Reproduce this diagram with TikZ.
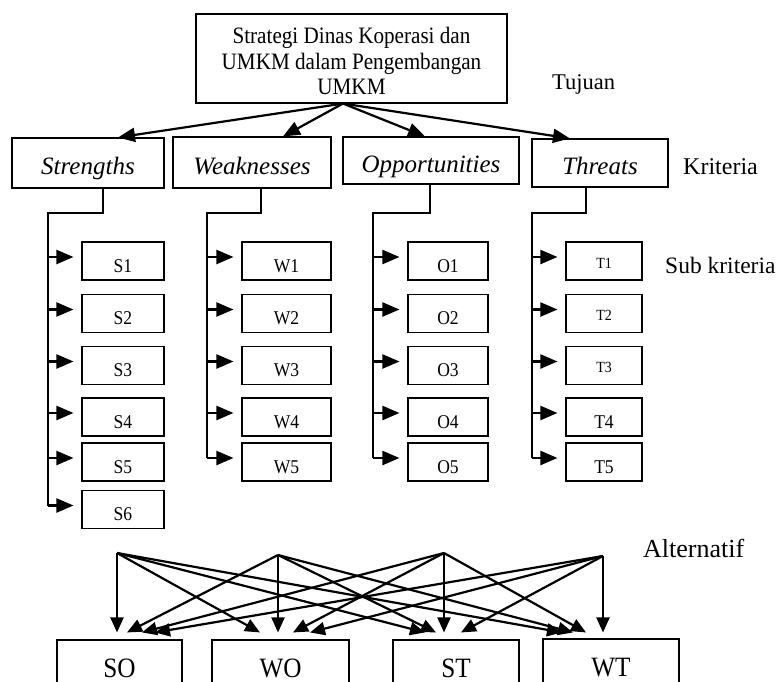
\documentclass[tikz,border=0pt]{standalone}
\usepackage{fontspec}
\setmainfont{Liberation Serif}
\newfontfamily\narrowserif[FakeStretch=0.9]{Liberation Serif}
\usetikzlibrary{arrows.meta,calc}
\begin{document}
\begin{tikzpicture}[x=1pt,y=-1pt,
  frame/.style={draw, line width=1.1pt, inner sep=0pt},
  goalbox/.style={frame, minimum width=311pt, minimum height=89pt},
  goaltext/.style={align=center, inner sep=0pt,
    font=\narrowserif\fontsize{23.5}{25.5}\selectfont},
  critbox/.style={frame, text height=24pt, text depth=0pt,
    font=\fontsize{25}{28}\selectfont\itshape},
  subbox/.style={frame, minimum height=38pt, text height=22pt, text depth=0pt,
    font=\narrowserif\fontsize{19.5}{22}\selectfont},
  smallsub/.style={subbox, text height=14pt,
    font=\narrowserif\fontsize{15.5}{18}\selectfont},
  altbox/.style={frame, minimum height=56pt, text height=18pt, text depth=0pt,
    font=\narrowserif\fontsize{28}{30}\selectfont},
  level/.style={inner sep=0pt, anchor=base west, font=\fontsize{24}{28}\selectfont},
  link/.style={line width=2.2pt},
  arrow/.style={link, -{Triangle[length=17pt,width=14pt]}},
  altarrow/.style={link, -{Triangle[length=15pt,width=13pt]}},
]
\useasboundingbox (0,0) rectangle (779,682);
\clip (0,0) rectangle (779,682);

% goal
\node[goalbox] (goal) at (351.5,58.5) {};
\node[goaltext] (goaltext) at ([yshift=-2.5pt]goal.center)
  {Strategi Dinas Koperasi dan\\UMKM dalam Pengembangan\\UMKM};
\coordinate (fork) at ([xshift=-8.5pt]goal.south);

% criteria
\node[critbox, minimum width=152pt, minimum height=50pt] (Str)  at (88,163)    {Strengths};
\node[critbox, minimum width=158pt, minimum height=51pt] (Weak) at (252,162.5) {Weaknesses};
\node[critbox, minimum width=176pt, minimum height=47pt] (Opp)  at (431,160.5) {Opportunities};
\node[critbox, minimum width=136pt, minimum height=48pt] (Thr)  at (600,163)   {Threats};

\draw[arrow] (fork) -- ([xshift=30pt]Str.north);
\draw[arrow] (fork) -- ([xshift=31pt]Weak.north);
\draw[arrow] (fork) -- ([xshift=-6pt]Opp.north);
\draw[arrow] (fork) -- ([xshift=-30pt]Thr.north);

% sub-criteria boxes
\node[subbox, minimum width=82pt] (S1) at (123,261)   {S1};
\node[subbox, minimum width=82pt] (S2) at (123,313.5) {S2};
\node[subbox, minimum width=82pt] (S3) at (123,365.5) {S3};
\node[subbox, minimum width=82pt] (S4) at (123,417)   {S4};
\node[subbox, minimum width=82pt] (S5) at (123,462)   {S5};
\node[subbox, minimum width=82pt] (S6) at (123,509.5) {S6};

\node[subbox, minimum width=89pt] (W1) at (286.5,261)   {W1};
\node[subbox, minimum width=89pt] (W2) at (286.5,313.5) {W2};
\node[subbox, minimum width=89pt] (W3) at (286.5,365.5) {W3};
\node[subbox, minimum width=89pt] (W4) at (286.5,417)   {W4};
\node[subbox, minimum width=89pt] (W5) at (286.5,462)   {W5};

\node[subbox, minimum width=80pt] (O1) at (448,261)   {O1};
\node[subbox, minimum width=80pt] (O2) at (448,313.5) {O2};
\node[subbox, minimum width=80pt] (O3) at (448,365.5) {O3};
\node[subbox, minimum width=80pt] (O4) at (448,417)   {O4};
\node[subbox, minimum width=80pt] (O5) at (448,462)   {O5};

\node[smallsub, minimum width=76pt] (T1) at (604,261)   {T1};
\node[smallsub, minimum width=76pt] (T2) at (604,313.5) {T2};
\node[smallsub, minimum width=76pt] (T3) at (604,365.5) {T3};
\node[subbox,   minimum width=76pt] (T4) at (604,417)   {T4};
\node[subbox,   minimum width=76pt] (T5) at (604,462)   {T5};

% trunks
\coordinate (trunkS) at (48,213);
\coordinate (trunkW) at (207,213);
\coordinate (trunkO) at (373,213);
\coordinate (trunkT) at (532,213);

\draw[link] ([xshift=15pt]Str.south)  |- (trunkS) -- ($(S6.west -| trunkS)+(0,-4)$);
\draw[link] ([xshift=9pt]Weak.south)  |- (trunkW) -- ($(W5.west -| trunkW)+(0,-4)$);
\draw[link] ([xshift=-1pt]Opp.south)  |- (trunkO) -- ($(O5.west -| trunkO)+(0,-4)$);
\draw[link] ([xshift=-14pt]Thr.south) |- (trunkT) -- ($(T5.west -| trunkT)+(0,-4)$);

\foreach \k in {1,...,6}
  \draw[arrow] ($(S\k.west -| trunkS)+(0,-4)$) -- ($(S\k.west)+(-8,-4)$);
\foreach \c in {W,O,T}
  \foreach \k in {1,...,5}
    \draw[arrow] ($(\c\k.west -| trunk\c)+(0,-4)$) -- ($(\c\k.west)+(-8,-4)$);

% alternatives
\node[altbox, minimum width=125pt] (SO) at (119.5,668) {SO};
\node[altbox, minimum width=137pt] (WO) at (280.5,668) {WO};
\node[altbox, minimum width=126pt] (ST) at (456,668)   {ST};
\node[altbox, minimum width=136pt] (WT) at (611,667)   {WT};

\coordinate (A1) at (117,553);
\coordinate (A2) at (278,555);
\coordinate (A3) at (444,553);
\coordinate (A4) at (603,556);

\draw[altarrow] (A1) -- ($(SO.north)+(-2.5,-7)$);
\draw[altarrow] (A2) -- ($(SO.north)+(7.5,-7)$);
\draw[altarrow] (A3) -- ($(SO.north)+(22.5,-7)$);
\draw[altarrow] (A4) -- ($(SO.north)+(35.5,-7)$);

\draw[altarrow] (A1) -- ($(WO.north)+(-20.5,-7)$);
\draw[altarrow] (A2) -- ($(WO.north)+(-2.5,-7)$);
\draw[altarrow] (A3) -- ($(WO.north)+(12.5,-7)$);
\draw[altarrow] (A4) -- ($(WO.north)+(29.5,-7)$);

\draw[altarrow] (A1) -- ($(ST.north)+(-31,-7)$);
\draw[altarrow] (A2) -- ($(ST.north)+(-20,-7)$);
\draw[altarrow] (A3) -- ($(ST.north)+(-12,-7)$);
\draw[altarrow] (A4) -- ($(ST.north)+(5,-7)$);

\draw[altarrow] (A1) -- ($(WT.north)+(-49,-6)$);
\draw[altarrow] (A2) -- ($(WT.north)+(-38,-6)$);
\draw[altarrow] (A3) -- ($(WT.north)+(-25,-6)$);
\draw[altarrow] (A4) -- ($(WT.north)+(-8,-6)$);

% level labels
\node[level, font=\fontsize{22.5}{26}\selectfont] (tujuan) at (552,90) {Tujuan};
\node[level] (kriteria) at (683,175) {Kriteria};
\node[level, font=\fontsize{23.5}{27}\selectfont] (subkrit) at (665,273) {Sub kriteria};
\node[level, font=\fontsize{26}{29}\selectfont] (alt) at (643,557) {Alternatif};
\end{tikzpicture}
\end{document}
